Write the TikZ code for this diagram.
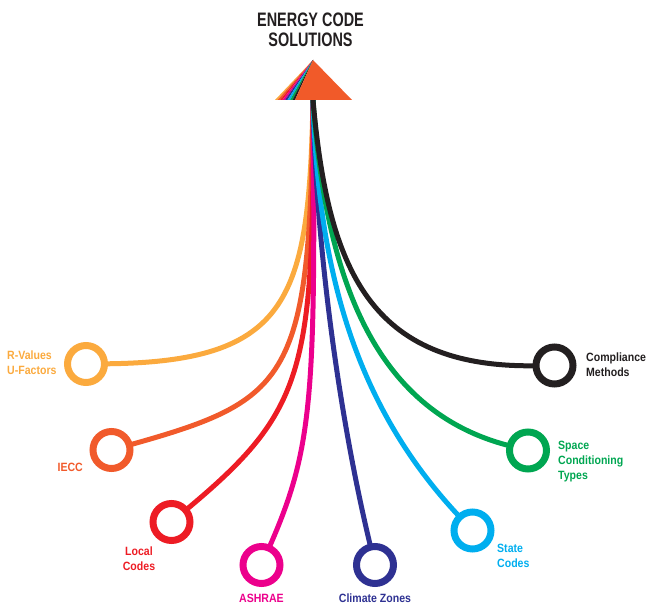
\documentclass[tikz,border=0pt]{standalone}
\usepackage{fontspec}
\setmainfont{Liberation Sans}
\newfontfamily\tagfont{Liberation Sans}[FakeStretch=0.88]
\newfontfamily\titlefont{Liberation Sans}[FakeStretch=0.74]
\usetikzlibrary{positioning}

\definecolor{rvcol}{HTML}{FBAA3E}
\definecolor{ieccol}{HTML}{F15A2B}
\definecolor{localcol}{HTML}{ED1C24}
\definecolor{ashcol}{HTML}{EC008C}
\definecolor{climcol}{HTML}{2E3192}
\definecolor{statecol}{HTML}{00AEEF}
\definecolor{spacecol}{HTML}{00A651}
\definecolor{compcol}{HTML}{231F20}
\definecolor{tricol}{HTML}{F15A29}

\begin{document}
\begin{tikzpicture}[
    x=1pt, y=-1pt,
    ring/.style={circle, draw=#1, line width=7pt, minimum size=37pt, inner sep=0pt, outer sep=1pt},
    branch/.style={draw=#1, line width=5pt},
    tag/.style={text=#1, font=\tagfont\bfseries\fontsize{12}{15}\selectfont, inner sep=0pt},
    title/.style={text=compcol, font=\titlefont\bfseries\fontsize{19.5}{20.7}\selectfont, inner sep=0pt, align=center}
]
\useasboundingbox (0,0) rectangle (649,607);

% Title and source
\node[title, anchor=north] (title) at (310.5,12.3) {ENERGY CODE\\SOLUTIONS};
\coordinate (apex) at (313,60);
\coordinate (src) at (313,100);

% Define ring positions
\node[ring=rvcol] (rv) at (86,364) {};
\node[ring=ieccol] (iecc) at (111.5,450) {};
\node[ring=localcol] (local) at (171.5,522) {};
\node[ring=ashcol] (ashrae) at (261.5,565) {};
\node[ring=climcol] (climate) at (375,565) {};
\node[ring=statecol] (state) at (472.5,530.5) {};
\node[ring=spacecol] (space) at (528,450.5) {};
\node[ring=compcol] (comp) at (554.5,365.5) {};

% Branches from the source down to each ring
\draw[branch=rvcol] (src) .. controls (309,300) and (290,362) .. (rv);
\draw[branch=ieccol] (src) .. controls (310,380) and (290,400) .. (iecc);
\draw[branch=localcol] (src) .. controls (314,370) and (306,410) .. (local);
\draw[branch=ashcol] (src) .. controls (316,400) and (312,450) .. (ashrae);
\draw[branch=climcol] (src) .. controls (316,250) and (340,420) .. (climate);
\draw[branch=statecol] (src) .. controls (318,260) and (350,400) .. (state);
\draw[branch=spacecol] (src) .. controls (325,270) and (370,410) .. (space);
\draw[branch=compcol] (src) .. controls (328,270) and (370,368) .. (comp);

% Triangle with coloured slivers
\foreach \c [count=\i] in {rvcol,ieccol,localcol,ashcol,climcol,statecol,spacecol,compcol}
  \fill[\c] (apex) -- (272.5+\i*2.5,100) -- (275+\i*2.5,100) -- cycle;
\fill[tricol] (apex) -- (295,100) -- (352,100) -- cycle;

% Labels
\node[tag=rvcol, anchor=north west, align=left] (rvlab) at (7,350.5) {R-Values\\U-Factors};
\node[tag=ieccol, anchor=north east] (iecclab) at (83,463.4) {IECC};
\node[tag=localcol, anchor=north, align=center] (locallab) at (139,546.4) {Local\\Codes};
\node[tag=ashcol, below=9pt of ashrae] (ashlab) {ASHRAE};
\node[tag=climcol, below=9pt of climate] (climlab) {Climate Zones};
\node[tag=statecol, anchor=north west, align=left] (statelab) at (497,544.4) {State\\Codes};
\node[tag=spacecol, anchor=north west, align=left] (spacelab) at (558,441.4) {Space\\Conditioning\\Types};
\node[tag=compcol, anchor=north west, align=left] (complab) at (586,352.4) {Compliance\\Methods};

\end{tikzpicture}
\end{document}
